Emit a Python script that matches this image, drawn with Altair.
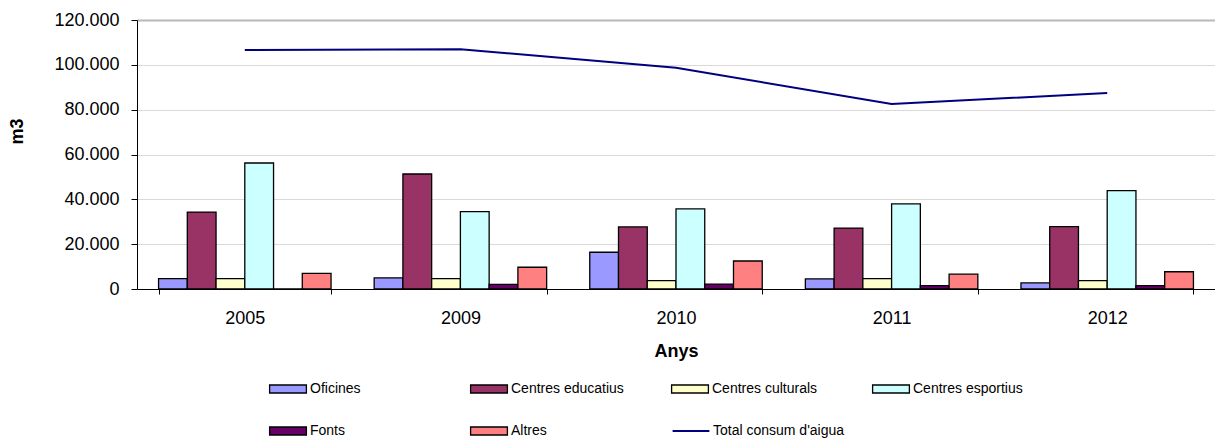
import altair as alt
import pandas as pd

years = ["2005", "2009", "2010", "2011", "2012"]
series = ["Oficines", "Centres educatius", "Centres culturals",
          "Centres esportius", "Fonts", "Altres"]
colors = ["#9999FF", "#993366", "#FFFFCC", "#CCFFFF", "#660066", "#FF8080"]

oficines = [4600, 5000, 16400, 4500, 2700]
educatius = [34300, 51300, 27700, 27200, 27800]
culturals = [4600, 4600, 3700, 4600, 3700]
esportius = [56200, 34500, 35700, 38000, 43900]
fonts = [0, 2100, 2200, 1500, 1500]
altres = [7000, 9700, 12500, 6600, 7700]
total_name = "Total consum d'aigua"
total = [106600, 107000, 98700, 82500, 87400]
y_ticks = [0, 20000, 40000, 60000, 80000, 100000, 120000]

rows = []
for name, vals in zip(series, [oficines, educatius, culturals, esportius, fonts, altres]):
    for yr, v in zip(years, vals):
        rows.append({"Any": yr, "Serie": name, "Valor": v})
bars_df = pd.DataFrame(rows)
line_df = pd.DataFrame({"Any": years, "Serie": [total_name] * len(years), "Valor": total})

FONT = "Liberation Sans"

x_enc = alt.X(
    "Any:N", sort=years, title="Anys",
    scale=alt.Scale(paddingInner=0.2, paddingOuter=0.1),
    axis=alt.Axis(labelAngle=0, tickBand="extent", grid=False,
                  domainColor="black", tickColor="black", tickSize=5,
                  labelFontSize=18, labelPadding=15, labelColor="black",
                  titleFontSize=18, titleFontWeight="bold", titleColor="black",
                  titlePadding=15, labelFont=FONT, titleFont=FONT),
)
y_enc = alt.Y(
    "Valor:Q",
    scale=alt.Scale(domain=[0, 120000]),
    axis=alt.Axis(values=y_ticks, title="m3",
                  labelExpr="replace(format(datum.value, ','), regexp(',', 'g'), '.')",
                  domainColor="black", tickColor="black", tickSize=6,
                  labelFontSize=18, labelPadding=12, labelColor="black",
                  titleFontSize=18, titleFontWeight="bold", titleColor="black",
                  titleAngle=-90, titleBaseline="middle", titleX=-120, titleY=111,
                  labelFont=FONT, titleFont=FONT,
                  gridColor={"condition": {"test": "datum.value === 120000", "value": "#b8b8b8"},
                             "value": "#d9d9d9"},
                  gridWidth={"condition": {"test": "datum.value === 120000", "value": 2},
                             "value": 1}),
)

rect_path = "M-4.6,-1H4.6V1H-4.6Z"
line_path = "M-4.6,0H4.6"

bars = alt.Chart(bars_df).mark_bar(stroke="black", strokeWidth=1.3).encode(
    x=x_enc,
    xOffset=alt.XOffset("Serie:N", sort=series,
                        scale=alt.Scale(paddingInner=0, paddingOuter=0)),
    y=y_enc,
    color=alt.Color(
        "Serie:N", sort=series, title=None,
        scale=alt.Scale(domain=series, range=colors),
        legend=alt.Legend(orient="none", legendX=144, legendY=362,
                          direction="horizontal", columns=4, gridAlign="all",
                          symbolType=rect_path, symbolSize=64,
                          symbolStrokeColor="black", symbolStrokeWidth=1.3,
                          symbolOpacity=1, labelFontSize=14, labelFont=FONT,
                          labelColor="black", labelOffset=15,
                          columnPadding=45, rowPadding=28, padding=0),
    ),
)

line = alt.Chart(line_df).mark_line(strokeWidth=2).encode(
    x=x_enc,
    y=y_enc,
    stroke=alt.Stroke(
        "Serie:N", title=None,
        scale=alt.Scale(domain=[total_name], range=["#000080"]),
        legend=alt.Legend(orient="none", legendX=547, legendY=404,
                          symbolType=line_path, symbolSize=64,
                          symbolStrokeWidth=2, labelFontSize=14, labelFont=FONT,
                          labelColor="black", labelOffset=15, padding=0),
    ),
)

chart = alt.layer(bars, line).properties(
    width=1078, height=269,
    padding={"left": 0, "top": 3, "right": 0, "bottom": 0},
).configure_view(stroke="transparent")

chart.save("out.html", embed_options={"renderer": "svg", "actions": False})
